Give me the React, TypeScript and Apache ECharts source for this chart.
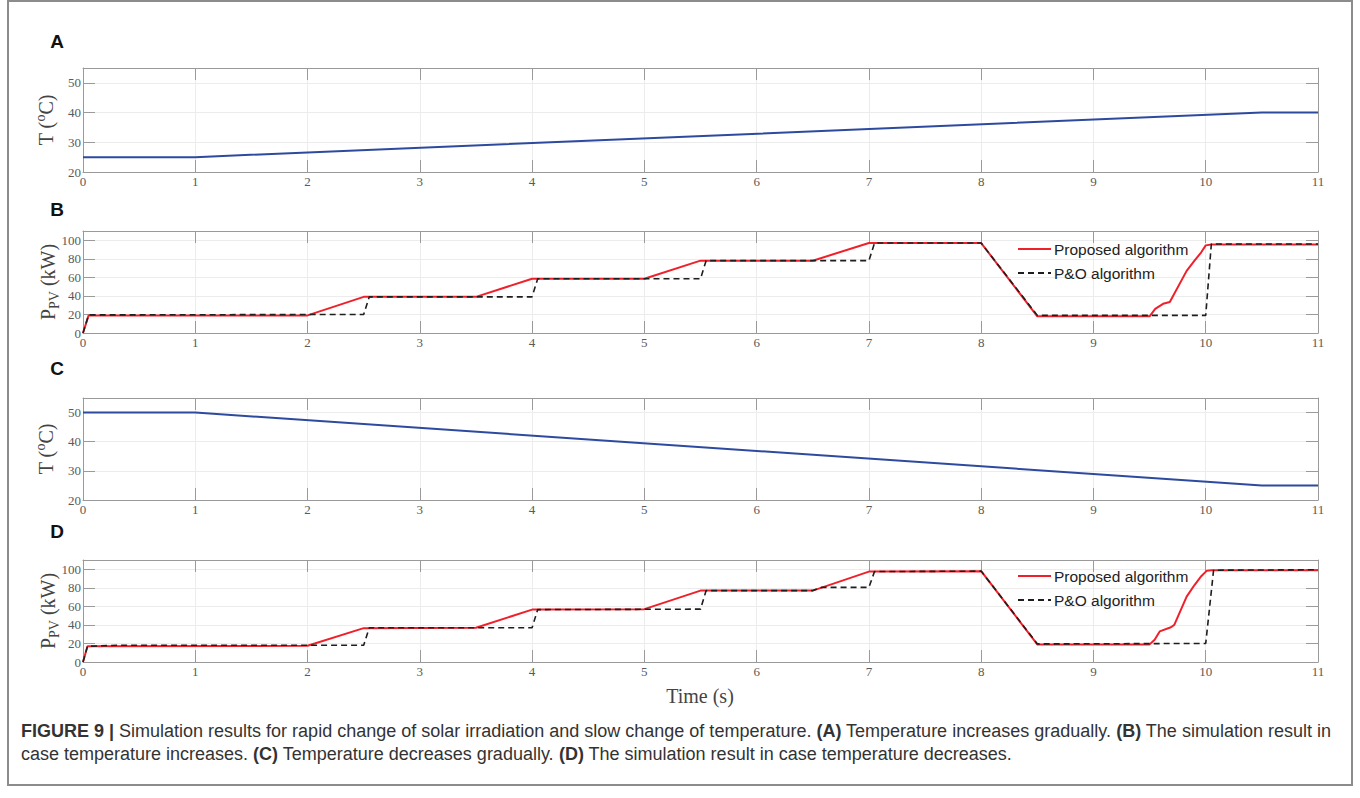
import React, { useEffect, useRef } from "react";
import * as echarts from "echarts";

// ---------- data ----------
const xTicksMax = 11;

const tempUpTime = [0, 1, 10.5, 11];
const tempUpValue = [25, 25, 40, 40];

const tempDownTime = [0, 1, 10.5, 11];
const tempDownValue = [50, 50, 25, 25];

const propBTime = [0, 0.05, 2, 2.5, 3.5, 4, 5, 5.5, 6.5, 7, 8, 8.5, 9.5, 9.55, 9.62, 9.68, 9.83, 9.9, 9.96, 10, 10.05, 11];
const propBValue = [0, 19, 19, 39, 39, 58.5, 58.5, 78, 78, 97, 97, 18, 18, 26, 31.5, 33.5, 67, 78, 87, 94.5, 95.5, 95.5];

const poBTime = [0, 0.05, 2.5, 2.55, 4, 4.05, 5.5, 5.55, 7, 7.05, 8, 8.5, 10, 10.05, 11];
const poBValue = [0, 19.5, 20, 39, 39, 58.5, 58.5, 78, 78, 97, 97, 19, 19, 96, 96];

const propDTime = [0, 0.04, 2, 2.5, 3.5, 4, 5, 5.5, 6.5, 7, 8, 8.5, 9.5, 9.545, 9.59, 9.69, 9.72, 9.83, 9.9, 9.96, 10.01, 10.05, 11];
const propDValue = [0, 17, 17.5, 36.5, 37, 56.5, 57, 77, 77, 97.5, 98, 19, 19, 24, 33, 37.5, 40, 70.5, 83, 92.5, 98.5, 99, 99];

const poDTime = [0, 0.04, 0.3, 2.5, 2.55, 4, 4.05, 5.5, 5.55, 6.5, 6.58, 7, 7.05, 8, 8.5, 10, 10.07, 11];
const poDValue = [0, 17, 18, 18, 37, 37, 56.5, 57, 77, 77, 80.5, 80.5, 97.5, 98, 19.5, 20, 99, 99.5];

const tempAxis = { min: 20, max: 55, interval: 10 };
const powerAxis = { min: 0, max: 110, interval: 20 };

const panelLabels = ["A", "B", "C", "D"];
const legendNames = ["Proposed algorithm", "P&O algorithm"];

const zip = (t: number[], v: number[]) => t.map((x, i) => [x, v[i]]);

const SERIF = "Liberation Serif, DejaVu Serif, serif";
const SANS = "Liberation Sans, Arial, sans-serif";
const AX = "#9a9a9a";

const grids = [
  { left: 83, top: 68, width: 1235, height: 104 },
  { left: 83, top: 231, width: 1235, height: 102 },
  { left: 83, top: 398, width: 1235, height: 102 },
  { left: 83, top: 560, width: 1235, height: 102 },
];

function buildOption() {
  const xAxis: any[] = [];
  const yAxis: any[] = [];
  grids.forEach((_, g) => {
    xAxis.push({
      type: "value", gridIndex: g, min: 0, max: xTicksMax, interval: 1, position: "bottom",
      axisLine: { show: true, onZero: false, lineStyle: { color: AX, width: 1 } },
      axisTick: { show: true, inside: true, length: 12, lineStyle: { color: AX } },
      axisLabel: { margin: 3, fontFamily: SERIF, fontSize: 13, color: "#5a5a5a" },
      splitLine: { show: true, lineStyle: { color: "#ececec" } },
    });
    xAxis.push({
      type: "value", gridIndex: g, min: 0, max: xTicksMax, interval: 1, position: "top",
      axisLine: { show: true, onZero: false, lineStyle: { color: AX, width: 1 } },
      axisTick: { show: true, inside: true, length: 12, lineStyle: { color: AX } },
      axisLabel: { show: false },
      splitLine: { show: false },
    });
    const ya = g % 2 === 0 ? tempAxis : powerAxis;
    yAxis.push({
      type: "value", gridIndex: g, min: ya.min, max: ya.max, interval: ya.interval, position: "left",
      axisLine: { show: true, onZero: false, lineStyle: { color: AX, width: 1 } },
      axisTick: { show: true, inside: true, length: 12, lineStyle: { color: AX } },
      axisLabel: { margin: 2, fontFamily: SERIF, fontSize: 13, color: "#5a5a5a", showMaxLabel: false },
      splitLine: { show: true, lineStyle: { color: "#ececec" } },
    });
    yAxis.push({
      type: "value", gridIndex: g, min: ya.min, max: ya.max, interval: ya.interval, position: "right",
      axisLine: { show: true, onZero: false, lineStyle: { color: AX, width: 1 } },
      axisTick: { show: true, inside: true, length: 12, lineStyle: { color: AX } },
      axisLabel: { show: false },
      splitLine: { show: false },
    });
  });

  const blue = { type: "line", symbol: "none", silent: true, lineStyle: { color: "#2d4a9f", width: 2 }, itemStyle: { color: "#2d4a9f" } };
  const red = { type: "line", symbol: "none", silent: true, lineStyle: { color: "#f0202a", width: 2 }, itemStyle: { color: "#f0202a" } };
  const dash = { type: "line", symbol: "none", silent: true, lineStyle: { color: "#1e1e1e", width: 1.6, type: [6, 4] }, itemStyle: { color: "#1e1e1e" } };

  const series = [
    { ...blue, name: "T up", xAxisIndex: 0, yAxisIndex: 0, data: zip(tempUpTime, tempUpValue) },
    { ...red, name: legendNames[0], xAxisIndex: 2, yAxisIndex: 2, data: zip(propBTime, propBValue) },
    { ...dash, name: legendNames[1], xAxisIndex: 2, yAxisIndex: 2, data: zip(poBTime, poBValue) },
    { ...blue, name: "T down", xAxisIndex: 4, yAxisIndex: 4, data: zip(tempDownTime, tempDownValue) },
    { ...red, name: legendNames[0], xAxisIndex: 6, yAxisIndex: 6, data: zip(propDTime, propDValue) },
    { ...dash, name: legendNames[1], xAxisIndex: 6, yAxisIndex: 6, data: zip(poDTime, poDValue) },
  ];

  const legendBase = {
    orient: "vertical", itemWidth: 33, itemHeight: 14, itemGap: 8, padding: 0,
    selectedMode: false,
    itemStyle: { opacity: 0, borderWidth: 0 },
    textStyle: { fontFamily: SANS, fontSize: 15.5, color: "#222", padding: [0, 0, 0, -2] },
    data: legendNames,
  };

  const letterY = [41, 209, 368, 531];
  const nameCenters = [120, 282, 449, 611];

  const graphic: any[] = [
    { type: "rect", shape: { x: 8, y: 1, width: 1344, height: 784 }, style: { fill: "none", stroke: "#8c8c8c", lineWidth: 2 }, silent: true },
  ];
  panelLabels.forEach((l, i) => {
    graphic.push({
      type: "text", x: 57, y: letterY[i],
      style: { text: l, fontFamily: SANS, fontWeight: "bold", fontSize: 19, fill: "#111", textAlign: "center", textVerticalAlign: "middle" },
    });
  });
  nameCenters.forEach((cy, i) => {
    const isTemp = i % 2 === 0;
    graphic.push({
      type: "text", x: isTemp ? 46 : 48, y: cy, rotation: Math.PI / 2,
      style: {
        text: isTemp ? "{n|T (}{sup|o}{n|C)}" : "{n|P}{sub|PV}{n| (kW)}",
        textAlign: "center", textVerticalAlign: "middle",
        rich: {
          n: { fontFamily: SERIF, fontSize: 20, fill: "#444", color: "#444", lineHeight: 26, verticalAlign: "middle" },
          sup: { fontFamily: SERIF, fontSize: 14, fill: "#444", color: "#444", lineHeight: 15, verticalAlign: "top" },
          sub: { fontFamily: SERIF, fontSize: 14, fill: "#444", color: "#444", lineHeight: 14, verticalAlign: "bottom" },
        },
      },
    });
  });
  graphic.push({
    type: "text", x: 700, y: 696,
    style: { text: "Time (s)", fontFamily: SERIF, fontSize: 20, fill: "#444", textAlign: "center", textVerticalAlign: "middle" },
  });
  const capRich = {
    b: { fontFamily: SANS, fontSize: 18, fontWeight: "bold", fill: "#333", color: "#333" },
    r: { fontFamily: SANS, fontSize: 18, fill: "#333", color: "#333" },
  };
  graphic.push({
    type: "text", x: 21, y: 731,
    style: {
      text: "{b|FIGURE 9 |}{r| Simulation results for rapid change of solar irradiation and slow change of temperature. }{b|(A)}{r| Temperature increases gradually. }{b|(B)}{r| The simulation result in}",
      rich: capRich, textVerticalAlign: "middle",
    },
  });
  graphic.push({
    type: "text", x: 21, y: 754,
    style: {
      text: "{r|case temperature increases. }{b|(C)}{r| Temperature decreases gradually. }{b|(D)}{r| The simulation result in case temperature decreases.}",
      rich: capRich, textVerticalAlign: "middle",
    },
  });

  return {
    animation: false,
    backgroundColor: "#ffffff",
    grid: grids,
    xAxis,
    yAxis,
    legend: [
      { ...legendBase, left: 1017, top: 241 },
      { ...legendBase, left: 1017, top: 568 },
    ],
    series,
    graphic,
  };
}

export default function App() {
  const ref = useRef<HTMLDivElement>(null);
  useEffect(() => {
    if (!ref.current) return;
    const chart = echarts.init(ref.current, undefined, { renderer: "svg" });
    chart.setOption(buildOption() as any);
    return () => chart.dispose();
  }, []);
  return (
    <div
      ref={ref}
      style={{ position: "fixed", left: 0, top: 0, width: 1360, height: 798, background: "#fff" }}
    />
  );
}
